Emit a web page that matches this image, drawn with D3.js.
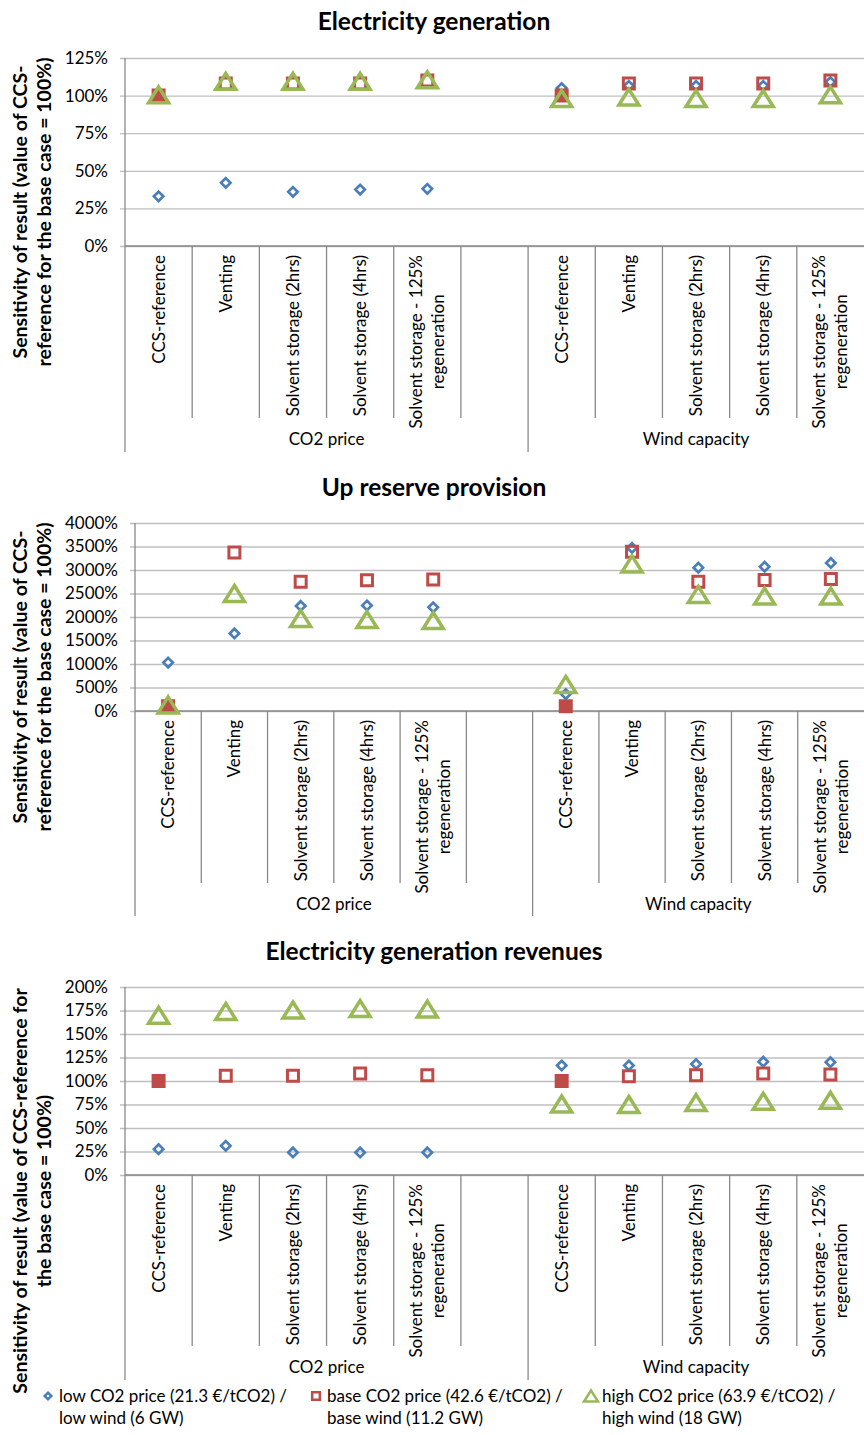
<!DOCTYPE html>
<html>
<head>
<meta charset="utf-8">
<script src="https://cdn.jsdelivr.net/npm/d3@7"></script>
<style>
  body { margin: 0; background: #fff; }
  text { font-family: Lato, "Open Sans", sans-serif; fill: #000; }
</style>
</head>
<body>
<div id="chart"></div>
<script>
// categories on the x axis, repeated for each group
var categories = ["CCS-reference", "Venting", "Solvent storage (2hrs)", "Solvent storage (4hrs)", "Solvent storage - 125%|regeneration"];
var groups = ["CO2 price", "Wind capacity"];

var legendLabels = [
  ["low CO2 price (21.3 €/tCO2) /", "low wind (6 GW)"],
  ["base CO2 price (42.6 €/tCO2) /", "base wind (11.2 GW)"],
  ["high CO2 price (63.9 €/tCO2) /", "high wind (18 GW)"]
];

// values in % : first five = CO2 price cases, last five = wind capacity cases
var genLow  = [33, 42, 36, 37.5, 38, 105, 106.5, 106.5, 106.5, 109];
var genBase = [100, 108, 108, 108, 110, 100, 108, 108, 108, 110];
var genHigh = [100.5, 109.5, 109.5, 109.5, 110.5, 98, 99, 98, 98, 100.5];

var resLow  = [1030, 1650, 2235, 2245, 2205, 360, 3470, 3050, 3070, 3150];
var resBase = [100, 3375, 2750, 2780, 2800, 100, 3390, 2750, 2785, 2810];
var resHigh = [130, 2500, 1970, 1945, 1925, 565, 3130, 2480, 2445, 2445];

var revLow  = [27.5, 31, 24, 24, 24, 116.5, 116.5, 118, 120.5, 120];
var revBase = [100, 105.5, 105.5, 108, 106, 100, 105, 106, 108, 107];
var revHigh = [170, 174, 175.5, 177, 176.5, 75.5, 75, 77, 78.5, 79.5];

var genTicks = [0, 25, 50, 75, 100, 125];
var resTicks = [0, 500, 1000, 1500, 2000, 2500, 3000, 3500, 4000];
var revTicks = [0, 25, 50, 75, 100, 125, 150, 175, 200];

var width = 864, height = 1435;
var plotRight = 864;

var colors = { low: "#4A7EBB", base: "#BE4B48", high: "#98B954" };

var yTitleA = ["Sensitivity of result (value of CCS-", "reference for the base case = 100%)"];
var yTitleB = ["Sensitivity of result (value of CCS-reference for", "the base case = 100%)"];

var panels = [
  { title: "Electricity generation", low: genLow, base: genBase, high: genHigh, ticks: genTicks,
    left: 125, top: 58, bottom: 246, innerEnd: 418, groupEnd: 452, titleY: 30, yTitle: yTitleA, yTitleMid: 212 },
  { title: "Up reserve provision", low: resLow, base: resBase, high: resHigh, ticks: resTicks,
    left: 135, top: 523, bottom: 711, innerEnd: 883, groupEnd: 916, titleY: 496, yTitle: yTitleA, yTitleMid: 677 },
  { title: "Electricity generation revenues", low: revLow, base: revBase, high: revHigh, ticks: revTicks,
    left: 125, top: 987, bottom: 1175, innerEnd: 1346, groupEnd: 1380, titleY: 960, yTitle: yTitleB, yTitleMid: 1191 }
];

// 11 slots: 5 CO2 cases, one empty slot, 5 wind cases
var slots = [];
groups.forEach(function(g, gi) {
  categories.forEach(function(c, ci) { slots.push({ key: gi + "-" + ci, group: gi, cat: ci }); });
  if (gi == 0) slots.push({ key: "gap", group: 0, cat: null });
});

function markerPath(kind, small) {
  var k = small ? 0.7 : 1;
  if (kind == "low") { var r = 4.7 * k; return "M0," + (-r) + "L" + r + ",0L0," + r + "L" + (-r) + ",0Z"; }
  if (kind == "base") { var s = 5.5 * k; return "M" + (-s) + "," + (-s) + "H" + s + "V" + s + "H" + (-s) + "Z"; }
  var h = 8 * k, w = 10 * k;
  return "M0," + (-h) + "L" + w + "," + h + "H" + (-w) + "Z";
}

var svg = d3.select("#chart").append("svg")
  .attr("width", width)
  .attr("height", height);

panels.forEach(function(p) {

  var x = d3.scaleBand()
    .domain(slots.map(function(d) { return d.key; }))
    .range([p.left, plotRight])
    .padding(0);

  var y = d3.scaleLinear()
    .domain([0, p.ticks[p.ticks.length - 1]])
    .range([p.bottom, p.top]);

  var g = svg.append("g");

  // title
  g.append("text")
    .attr("x", 434)
    .attr("y", p.titleY)
    .attr("text-anchor", "middle")
    .style("font-size", "24.5px")
    .style("font-weight", "bold")
    .text(p.title);

  // gridlines (with the short outside tick marks)
  var grid = g.append("g")
    .attr("transform", "translate(" + (p.left - 5) + ",0)")
    .call(d3.axisLeft(y).tickValues(p.ticks).tickSize(-(plotRight - p.left + 5)).tickFormat(""));
  grid.select(".domain").remove();
  grid.selectAll("line").attr("stroke", "#BFBFBF").attr("stroke-width", 1.3);

  // y labels
  var yAx = g.append("g")
    .attr("transform", "translate(" + p.left + ",0)")
    .call(d3.axisLeft(y).tickValues(p.ticks).tickSize(0).tickPadding(17).tickFormat(function(d) { return d + "%"; }));
  yAx.select(".domain").remove();
  yAx.selectAll("text")
    .style("font-family", "Lato, sans-serif")
    .style("font-size", "17px")
    .attr("fill", "#000");

  // x axis line at 0%
  g.append("line")
    .attr("x1", p.left).attr("x2", plotRight)
    .attr("y1", y(0)).attr("y2", y(0))
    .attr("stroke", "#898989").attr("stroke-width", 1.3);

  // y axis line, continues down as first group separator
  g.append("line")
    .attr("x1", p.left).attr("x2", p.left)
    .attr("y1", p.top).attr("y2", p.groupEnd)
    .attr("stroke", "#898989").attr("stroke-width", 1.3);

  // category separators
  slots.forEach(function(s, i) {
    if (i == 0) return;
    var isGroup = (s.cat === 0);
    g.append("line")
      .attr("x1", x(s.key)).attr("x2", x(s.key))
      .attr("y1", y(0)).attr("y2", isGroup ? p.groupEnd : p.innerEnd)
      .attr("stroke", "#898989").attr("stroke-width", 1.3);
  });

  // category labels, rotated
  slots.filter(function(s) { return s.cat !== null; }).forEach(function(s) {
    var lines = categories[s.cat].split("|");
    var lab = g.append("g")
      .attr("transform", "translate(" + (x(s.key) + x.bandwidth() / 2) + "," + (y(0) + 9) + ") rotate(-90)");
    var lh = 22;
    var first = lab.append("text")
      .attr("x", 0)
      .attr("y", lines.length > 1 ? -lh / 2 : 0)
      .attr("dy", "0.35em")
      .attr("text-anchor", "end")
      .style("font-size", "17px")
      .text(lines[0]);
    if (lines.length > 1) {
      var len = first.node().getComputedTextLength();
      lab.append("text")
        .attr("x", -len / 2)
        .attr("y", lh / 2)
        .attr("dy", "0.35em")
        .attr("text-anchor", "middle")
        .style("font-size", "17px")
        .text(lines[1]);
    }
  });

  // group labels
  groups.forEach(function(gr, gi) {
    var x0 = gi == 0 ? x("0-0") : x("1-0");
    var x1 = gi == 0 ? x("1-0") : plotRight;
    g.append("text")
      .attr("x", (x0 + x1) / 2)
      .attr("y", p.innerEnd + 27)
      .attr("text-anchor", "middle")
      .style("font-size", "17px")
      .text(gr);
  });

  // y axis title
  var yt = g.append("text")
    .attr("transform", "translate(0," + p.yTitleMid + ") rotate(-90)")
    .attr("text-anchor", "middle")
    .style("font-size", "19.5px")
    .style("font-weight", "bold");
  yt.selectAll("tspan")
    .data(p.yTitle)
    .enter()
    .append("tspan")
    .attr("x", 0)
    .attr("y", function(d, i) { return i == 0 ? 27 : 51; })
    .text(function(d) { return d; });

  // markers (hollow ones have no fill, like the original)
  ["low", "base", "high"].forEach(function(key) {
    var vals = p[key];
    var pts = slots.filter(function(s) { return s.cat !== null; }).map(function(s, i) {
      return { slot: s, value: vals[i], filled: key == "base" && s.cat === 0 };
    });
    g.append("g")
      .selectAll("path")
      .data(pts)
      .enter()
      .append("path")
      .attr("d", markerPath(key))
      .attr("transform", function(d) { return "translate(" + (x(d.slot.key) + x.bandwidth() / 2) + "," + y(d.value) + ")"; })
      .attr("fill", function(d) { return d.filled ? colors[key] : "none"; })
      .attr("stroke", colors[key])
      .attr("stroke-width", key == "high" ? 3.5 : (key == "base" ? 3 : 2.7));
  });
});

// legend
var legendX = [48, 316, 591];
var legend = svg.append("g");
["low", "base", "high"].forEach(function(key, i) {
  legend.append("path")
    .attr("d", markerPath(key, true))
    .attr("transform", "translate(" + legendX[i] + ",1396)")
    .attr("fill", "none")
    .attr("stroke", colors[key])
    .attr("stroke-width", 2.5);
  legend.append("text")
    .attr("x", legendX[i] + 11)
    .attr("y", 1402)
    .style("font-size", "17px")
    .selectAll("tspan")
    .data(legendLabels[i])
    .enter()
    .append("tspan")
    .attr("x", legendX[i] + 11)
    .attr("dy", function(d, j) { return j == 0 ? 0 : 22; })
    .text(function(d) { return d; });
});
</script>
</body>
</html>
